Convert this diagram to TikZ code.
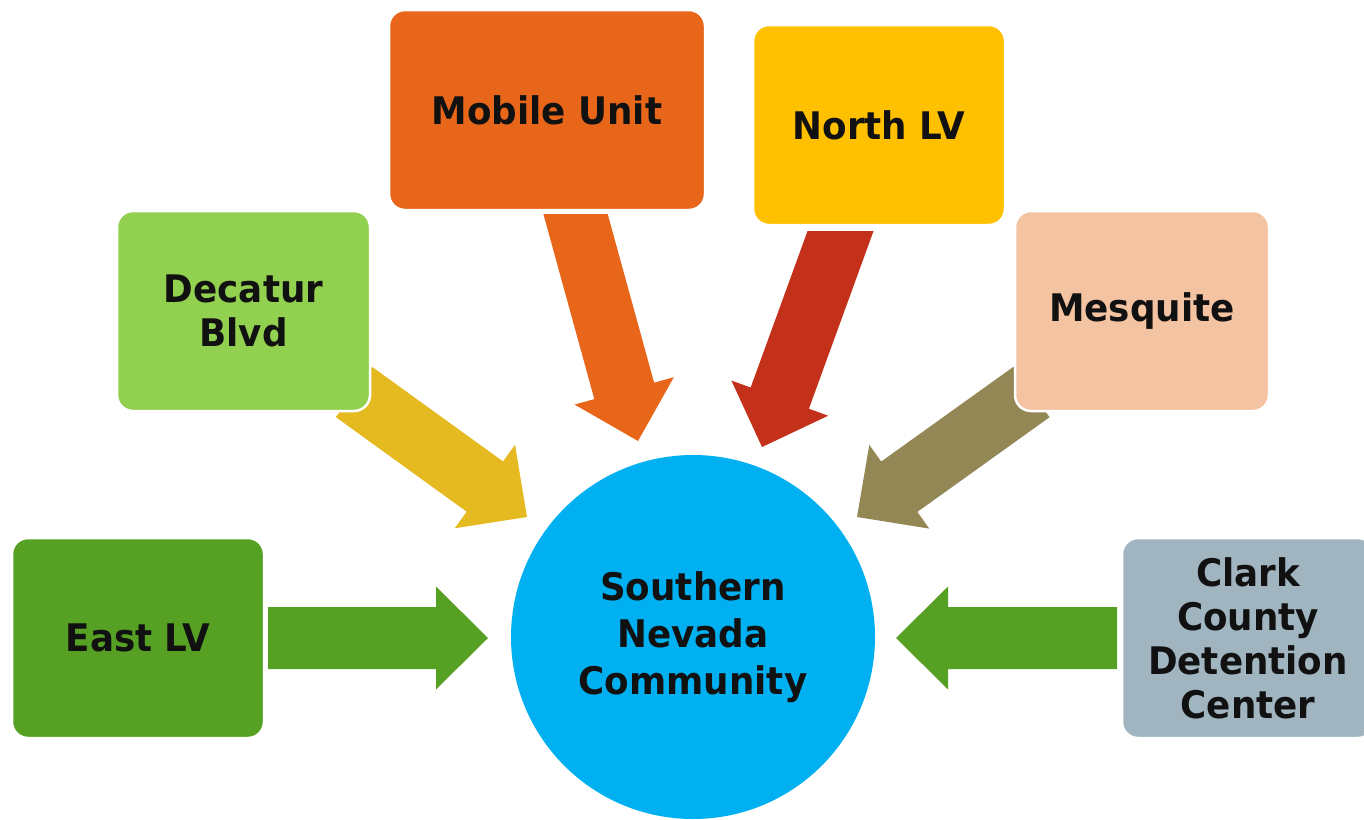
\documentclass[tikz,border=0pt]{standalone}
\usepackage{fontspec}
\setmainfont{DejaVu Sans}[FakeStretch=0.94]
\usetikzlibrary{calc}
\definecolor{cMobile}{HTML}{E8661A}
\definecolor{cNorth}{HTML}{FFC000}
\definecolor{cDecatur}{HTML}{92D050}
\definecolor{cMesquite}{HTML}{F4C3A2}
\definecolor{cEast}{HTML}{56A123}
\definecolor{cClark}{HTML}{A1B5C1}
\definecolor{cCircle}{HTML}{00B0F0}
\definecolor{aYellow}{HTML}{E5B920}
\definecolor{aRed}{HTML}{C4311A}
\definecolor{aOlive}{HTML}{938755}
\definecolor{txt}{HTML}{111111}
\newcommand\lblfont{\fontsize{38}{44}\selectfont\bfseries}
\newcommand\circfont{\fontsize{38}{47}\selectfont\bfseries}
% block arrow: colour, start, tip
\newcommand\blockarrow[3]{%
  \coordinate (bah) at ($(#3)!52pt!(#2)$);
  \fill[#1] ($(#2)!31pt!90:(#3)$) -- ($(bah)!31pt!90:(#3)$) -- ($(bah)!51.5pt!90:(#3)$)
    -- (#3) -- ($(bah)!51.5pt!-90:(#3)$) -- ($(bah)!31pt!-90:(#3)$)
    -- ($(#2)!31pt!-90:(#3)$) -- cycle;}
\begin{document}
\begin{tikzpicture}[x=1pt,y=-1pt,
  box/.style={rectangle, rounded corners=16pt, draw=white, line width=2.5pt,
    align=center, inner sep=0pt, text=txt, font=\lblfont, minimum height=200pt},
  hub/.style={circle, fill=cCircle, inner sep=0pt, minimum size=364pt,
    align=center, text=txt, font=\circfont}]
\useasboundingbox (0,0) rectangle (1364,819);
\clip (0,0) rectangle (1364,819);
% arrow axes
\coordinate (yA) at (354,392);    \coordinate (yB) at (527,517);
\coordinate (oA) at (570.3,195);  \coordinate (oB) at (638,441);
\coordinate (rA) at (850,205);    \coordinate (rB) at (762,447);
\coordinate (mA) at (1031.5,392); \coordinate (mB) at (857,517);
\coordinate (eA) at (268,638);    \coordinate (eB) at (488,638);
\coordinate (cA) at (1117,638);   \coordinate (cB) at (896,638);
% arrows
\blockarrow{aYellow}{yA}{yB}
\begin{scope}
  \clip (0,214) rectangle (1364,819);
  \blockarrow{cMobile}{oA}{oB}
\end{scope}
\begin{scope}
  \clip (0,231) rectangle (1364,819);
  \blockarrow{aRed}{rA}{rB}
\end{scope}
\blockarrow{aOlive}{mA}{mB}
\blockarrow{cEast}{eA}{eB}
\blockarrow{cEast}{cA}{cB}
% boxes
\node[box, fill=cMobile, minimum width=316pt] (mobile) at (547,110) {Mobile Unit};
\node[box, fill=cNorth, minimum width=252pt] (north) at (879,125) {North LV};
\node[box, fill=cDecatur, minimum width=253pt] (decatur) at (243.5,311) {Decatur\\Blvd};
\node[box, fill=cMesquite, minimum width=254pt] (mesquite) at (1142,311) {Mesquite};
\node[box, fill=cEast, minimum width=252pt] (east) at (138,638) {East LV};
\node[box, fill=cClark, minimum width=252pt] (clark) at (1248,638) {Clark\\County\\Detention\\Center};
% hub
\node[hub] (snc) at (693,637) {Southern\\Nevada\\Community};
\end{tikzpicture}
\end{document}
